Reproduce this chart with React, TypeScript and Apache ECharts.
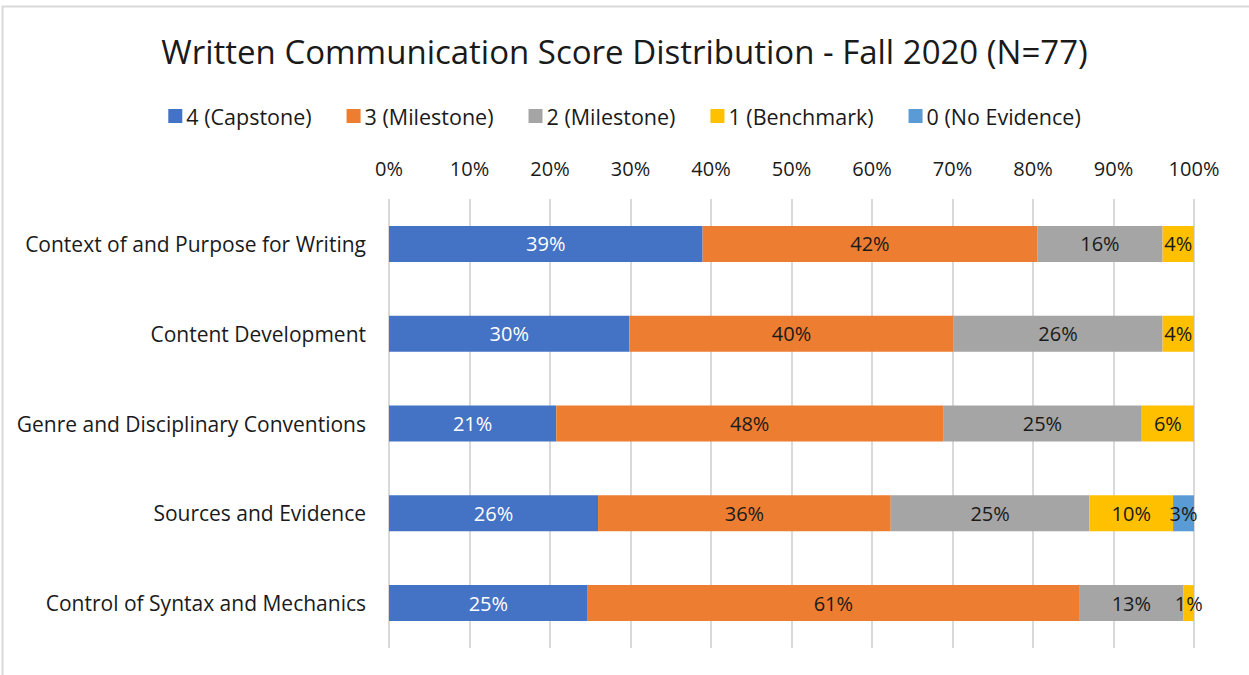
import React, { useEffect, useRef } from "react";
import * as echarts from "echarts";

const categories = [
  "Context of and Purpose for Writing",
  "Content Development",
  "Genre and Disciplinary Conventions",
  "Sources and Evidence",
  "Control of Syntax and Mechanics",
];
const seriesNames = ["4 (Capstone)", "3 (Milestone)", "2 (Milestone)", "1 (Benchmark)", "0 (No Evidence)"];
const capstone4 = [38.96, 29.87, 20.78, 25.97, 24.68];
const milestone3 = [41.56, 40.26, 48.05, 36.36, 61.04];
const milestone2 = [15.58, 25.97, 24.68, 24.68, 12.99];
const benchmark1 = [3.9, 3.9, 6.49, 10.39, 1.3];
const noEvidence0 = [0, 0, 0, 2.6, 0];
const xTicks = [0, 10, 20, 30, 40, 50, 60, 70, 80, 90, 100];

const colors = ["#4472C4", "#ED7D31", "#A5A5A5", "#FFC000", "#5B9BD5"];
const labelColors = ["#ffffff", "#1a1a1a", "#1a1a1a", "#1a1a1a", "#1a1a1a"];
const FONT = "'Open Sans', sans-serif";

export default function App() {
  const ref = useRef<HTMLDivElement>(null);
  useEffect(() => {
    document.body.style.margin = "0";
    const chart = echarts.init(ref.current!, null, { renderer: "svg" });
    const allData = [capstone4, milestone3, milestone2, benchmark1, noEvidence0];
    chart.setOption({
      animation: false,
      backgroundColor: "#ffffff",
      textStyle: { fontFamily: FONT },
      title: {
        text: "Written Communication Score Distribution - Fall 2020 (N=77)",
        left: "center",
        top: 30,
        textStyle: { fontFamily: FONT, fontSize: 33, fontWeight: "normal", color: "#1a1a1a" },
      },
      legend: {
        data: seriesNames,
        top: 100,
        left: "center",
        itemWidth: 14,
        itemHeight: 14,
        itemGap: 35,
        icon: "rect",
        textStyle: { fontFamily: FONT, fontSize: 21.5, color: "#1a1a1a", padding: [0, 0, 0, -1] },
      },
      grid: { left: 389, right: 55, top: 199, bottom: 27, containLabel: false },
      xAxis: {
        type: "value",
        position: "top",
        min: xTicks[0],
        max: xTicks[xTicks.length - 1],
        interval: 10,
        axisLine: { show: false },
        axisTick: { show: false },
        axisLabel: {
          formatter: "{value}%",
          fontFamily: FONT,
          fontSize: 20,
          color: "#1a1a1a",
          margin: 21,
        },
        splitLine: { show: true, lineStyle: { color: "#d9d9d9", width: 2 } },
      },
      yAxis: {
        type: "category",
        data: categories,
        inverse: true,
        axisLine: { show: false },
        axisTick: { show: false },
        axisLabel: { fontFamily: FONT, fontSize: 21, color: "#1a1a1a", margin: 23 },
        splitLine: { show: false },
      },
      graphic: [
        {
          type: "rect",
          shape: { x: 2.5, y: 6.5, width: 1300, height: 700 },
          style: { fill: "none", stroke: "#d9d9d9", lineWidth: 2 },
          silent: true,
          z: 100,
        },
      ],
      series: allData.map((d, i) => ({
        name: seriesNames[i],
        type: "bar",
        stack: "total",
        barWidth: 36,
        data: d,
        itemStyle: { color: colors[i] },
        label: {
          show: true,
          position: "inside",
          fontFamily: FONT,
          fontSize: 20,
          color: labelColors[i],
          formatter: (p: any) => (p.value > 0 ? Math.round(p.value) + "%" : ""),
        },
      })),
    });
    return () => chart.dispose();
  }, []);
  return <div ref={ref} style={{ width: 1249, height: 675 }} />;
}
